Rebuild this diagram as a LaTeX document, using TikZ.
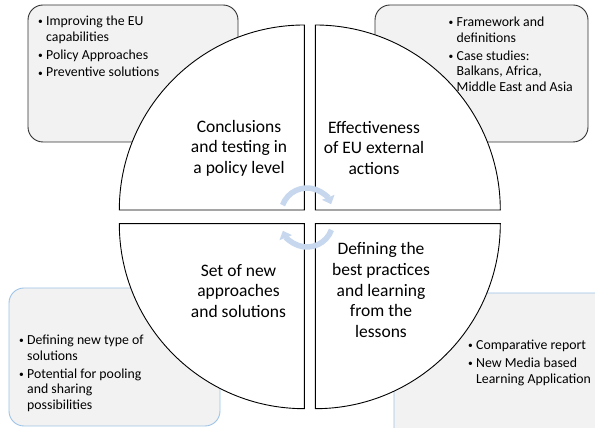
\documentclass[tikz,border=0pt]{standalone}
\usepackage{fontspec}
\setmainfont{Carlito}
\usetikzlibrary{arrows.meta,calc}
\definecolor{boxfill}{HTML}{F2F2F2}
\definecolor{boxdark}{HTML}{303030}
\definecolor{boxblue}{HTML}{9DC3E6}
\definecolor{arrowblue}{HTML}{C6D7EE}
\newcommand\bitem[1]{\makebox[8pt][l]{\raisebox{0.8pt}{\fontsize{9.5}{9.5}\selectfont\textbullet}}#1}
\newcommand\bcont[1]{\makebox[8pt][l]{}#1}
\tikzset{
  infobox/.style={fill=boxfill, rounded corners=15pt, line width=0.9pt},
  quad/.style={fill=white, draw=black, line width=0.9pt},
  boxtext/.style={anchor=north west, inner sep=0pt, align=left, font=\fontsize{13.8}{15.7}\selectfont},
  quadtext/.style={align=center, inner sep=0pt, font=\fontsize{17.5}{20.6}\selectfont},
  cycarrow/.style={draw=arrowblue, line width=5.5pt, -{Triangle[width=13pt,length=7.5pt]}}
}
\begin{document}
\begin{tikzpicture}[x=1pt,y=1pt]
\useasboundingbox (0,0) rectangle (595,428);
\clip (0,0) rectangle (595,428);
% background boxes
\draw[infobox, draw=boxdark] (28,286) rectangle (238,423);
\draw[infobox, draw=boxdark] (375,286) rectangle (588,423);
\draw[infobox, draw=boxblue] (9,2) rectangle (220,140);
\draw[infobox, draw=boxblue] (394,-20) rectangle (620,135);
% box texts
\node[boxtext] (tlt) at (38,412) {\bitem{Improving the EU}\\ \bcont{capabilities}\\[2pt] \bitem{Policy Approaches}\\[2pt] \bitem{Preventive solutions}};
\node[boxtext] (trt) at (448.5,411) {\bitem{Framework and}\\ \bcont{definitions}\\[2pt] \bitem{Case studies:}\\ \bcont{Balkans, Africa,}\\ \bcont{Middle East and Asia}};
\node[boxtext] (blt) at (19,93) {\bitem{Defining new type of}\\ \bcont{solutions}\\[2pt] \bitem{Potential for pooling}\\ \bcont{and sharing}\\ \bcont{possibilities}};
\node[boxtext] (brt) at (468,88) {\bitem{Comparative report}\\[2pt] \bitem{New Media based}\\ \bcont{Learning Application}};
% quadrants
\draw[quad] (304.3,218) -- (119.3,218) arc (180:90:185) -- cycle;
\draw[quad] (315.3,218) -- (315.3,403) arc (90:0:185) -- cycle;
\draw[quad] (304.3,204.3) -- (119.3,204.3) arc (180:270:185) -- cycle;
\draw[quad] (315.3,204.3) -- (500.3,204.3) arc (0:-90:185) -- cycle;
% quadrant texts
\node[quadtext] (q1) at (239,280) {Conclusions\\and testing in\\a policy level};
\node[quadtext] (q2) at (374,280) {Effectiveness\\of EU external\\actions};
\node[quadtext] (q3) at (238.5,137) {Set of new\\approaches\\and solutions};
\node[quadtext] (q4) at (381,138) {Defining the\\best practices\\and learning\\from the\\lessons};
% cycle arrows
\coordinate (ca) at (307,214);
\coordinate (cb) at (307,207);
\draw[cycarrow] ($(ca)+(160:26)$) arc (160:22:26);
\draw[cycarrow] ($(cb)+(-20:26)$) arc (-20:-158:26);
\end{tikzpicture}
\end{document}
